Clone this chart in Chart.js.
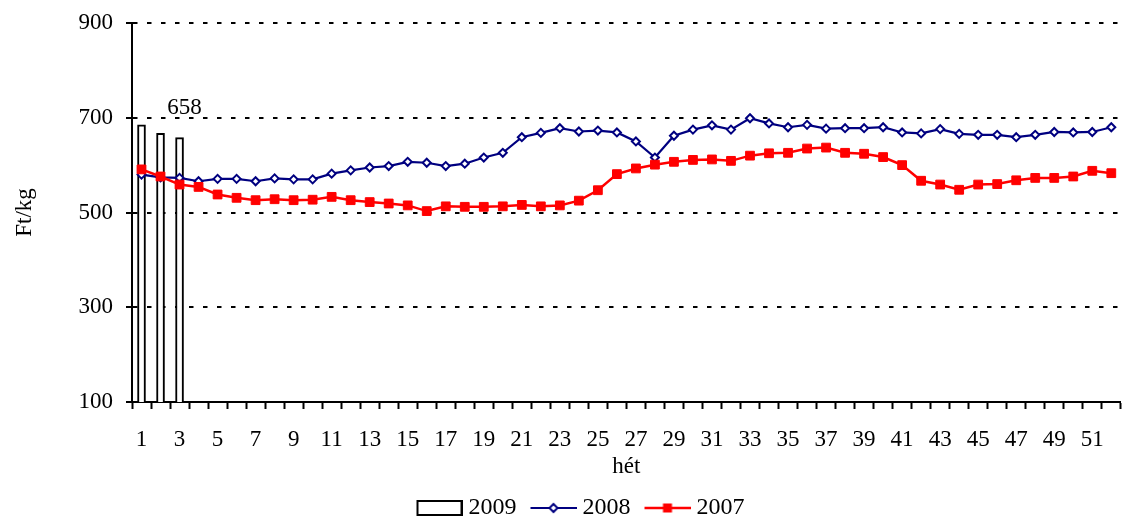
<!DOCTYPE html>
<html>
<head>
<meta charset="utf-8">
<script src="https://cdn.jsdelivr.net/npm/chart.js@4/dist/chart.umd.min.js"></script>
<style>
html,body{margin:0;padding:0;background:#fff;}
#wrap{width:1128px;height:520px;position:relative;}
</style>
</head>
<body>
<div id="wrap"><canvas id="c" width="1128" height="520"></canvas></div>
<script>
const weeks = Array.from({length: 52}, (_, i) => String(i + 1));
const v2009 = [685, 667, 658];
const v2008 = [580,574,573,566,571,571,566,572,570,570,
               582,589,595,598,607,605,598,603,616,626,
               659,668,678,671,673,669,650,616,662,675,
               684,675,699,688,680,685,677,678,678,680,
               669,667,676,666,664,664,659,664,670,669,
               670,680];
const v2007 = [591,576,559,554,538,531,526,528,526,527,
               533,526,522,519,515,503,513,512,512,513,
               516,513,515,525,547,581,593,601,607,611,
               612,609,620,625,626,635,637,626,624,617,
               600,567,559,548,559,560,568,573,573,576,
               588,583];
const yTicks = [100, 300, 500, 700, 900];
const seriesNames = ['2009', '2008', '2007'];
const labelIndex = 2; // bar with value label

const FONT = 'Liberation Serif, "Times New Roman", serif';
const NAVY = '#000080';
const RED = '#FF0000';

// legend symbol images: 56px wide canvas, visible symbol in x 10..56
function legendImg(kind) {
  const c = document.createElement('canvas');
  c.width = 56; c.height = 16;
  const g = c.getContext('2d');
  const x0 = 10, w = 46, cx = x0 + 23;
  if (kind === 'bar') {
    g.fillStyle = '#fff';
    g.strokeStyle = '#000';
    g.lineWidth = 2;
    g.fillRect(x0 + 1, 1, 44, 14);
    g.strokeRect(x0 + 1, 1, 44, 14);
  } else if (kind === 'diamond') {
    g.strokeStyle = NAVY; g.lineWidth = 2.2;
    g.beginPath(); g.moveTo(x0, 8); g.lineTo(x0 + w, 8); g.stroke();
    g.beginPath(); g.moveTo(cx, 4); g.lineTo(cx + 4, 8); g.lineTo(cx, 12); g.lineTo(cx - 4, 8); g.closePath();
    g.fillStyle = '#fff'; g.fill(); g.lineWidth = 2; g.stroke();
  } else {
    g.strokeStyle = RED; g.lineWidth = 2.5;
    g.beginPath(); g.moveTo(x0, 8); g.lineTo(x0 + w, 8); g.stroke();
    g.fillStyle = RED; g.fillRect(cx - 4.5, 3.5, 9, 9);
  }
  return c;
}
const legendImgs = [legendImg('bar'), legendImg('diamond'), legendImg('square')];

const valueLabel = {
  id: 'valueLabel',
  afterDatasetsDraw(chart) {
    const meta = chart.getDatasetMeta(0);
    const el = meta.data[labelIndex];
    if (!el) return;
    const ctx = chart.ctx;
    ctx.save();
    ctx.font = '23px ' + FONT;
    ctx.fillStyle = '#000';
    ctx.textAlign = 'center';
    ctx.textBaseline = 'alphabetic';
    ctx.fillText(String(v2009[labelIndex]), el.x + 5, el.y - 24);
    ctx.restore();
  }
};

// fix the legend box height and horizontal placement to match the reference
const legendHeight = {
  id: 'legendHeight',
  beforeLayout(chart) {
    const lg = chart.legend;
    if (lg && !lg._fixedFit) {
      const orig = lg.fit;
      lg.fit = function () {
        orig.call(this);
        this.height = 34;
        if (this.lineWidths && this.lineWidths.length) this.lineWidths[0] -= 34;
      };
      lg._fixedFit = true;
    }
  }
};

new Chart(document.getElementById('c'), {
  data: {
    labels: weeks,
    datasets: [
      {
        type: 'bar', label: seriesNames[0], data: v2009, order: 2,
        backgroundColor: '#fff', borderColor: '#000', borderWidth: 2,
        barThickness: 8
      },
      {
        type: 'line', label: seriesNames[1], data: v2008, order: 1,
        borderColor: NAVY, borderWidth: 2.2, pointStyle: 'rectRot',
        pointRadius: 4, pointBorderWidth: 2, pointBackgroundColor: '#fff',
        pointBorderColor: NAVY, tension: 0
      },
      {
        type: 'line', label: seriesNames[2], data: v2007, order: 0,
        borderColor: RED, borderWidth: 2.5, pointStyle: 'rect',
        pointRadius: 6.2, pointBorderWidth: 1, pointBackgroundColor: RED,
        pointBorderColor: RED, tension: 0
      }
    ]
  },
  options: {
    responsive: false,
    animation: false,
    devicePixelRatio: 1,
    layout: { padding: { left: 0, right: 5, top: 23, bottom: 0 } },
    plugins: {
      tooltip: { enabled: false },
      legend: {
        position: 'bottom',
        labels: {
          usePointStyle: true,
          pointStyleWidth: 44,
          boxHeight: 14,
          padding: 10,
          color: '#000',
          font: { family: FONT, size: 24 },
          generateLabels(chart) {
            return seriesNames.map((name, i) => ({
              text: name,
              pointStyle: legendImgs[i],
              fillStyle: 'rgba(0,0,0,0)',
              strokeStyle: 'rgba(0,0,0,0)',
              lineWidth: 0,
              hidden: false,
              datasetIndex: i,
              fontColor: '#000'
            }));
          }
        }
      }
    },
    scales: {
      x: {
        type: 'category',
        offset: true,
        grid: {
          offset: true, drawOnChartArea: false, drawTicks: true,
          tickLength: 7, tickWidth: 2, tickColor: '#000'
        },
        border: { display: true, color: '#000', width: 2 },
        ticks: {
          autoSkip: false, maxRotation: 0, padding: 17, color: '#000',
          font: { family: FONT, size: 23 },
          callback(val, idx) { return idx % 2 === 0 ? weeks[idx] : ''; }
        },
        title: {
          display: true, text: 'hét', color: '#000',
          font: { family: FONT, size: 23 }, padding: { top: 0, bottom: 5 }
        },
        afterFit(s) { s.height = 84; s.paddingRight = 0; }
      },
      y: {
        type: 'linear', min: 100, max: 900,
        afterBuildTicks(s) { s.ticks = yTicks.map(v => ({ value: v })); },
        grid: {
          color: '#000', lineWidth: 2, drawTicks: true, tickLength: 6,
          tickWidth: 2, tickColor: '#000', tickBorderDash: []
        },
        border: { display: true, color: '#000', width: 2, dash: [4.5, 9.5] },
        ticks: {
          padding: 13, color: '#000',
          font: { family: FONT, size: 23 }
        },
        title: {
          display: true, text: 'Ft/kg', color: '#000',
          font: { family: FONT, size: 23 }, padding: { top: 11, bottom: 0 }
        },
        afterFit(s) { s.width = 132; s.paddingTop = 0; s.paddingBottom = 0; }
      }
    }
  },
  plugins: [valueLabel, legendHeight]
});
</script>
</body>
</html>
